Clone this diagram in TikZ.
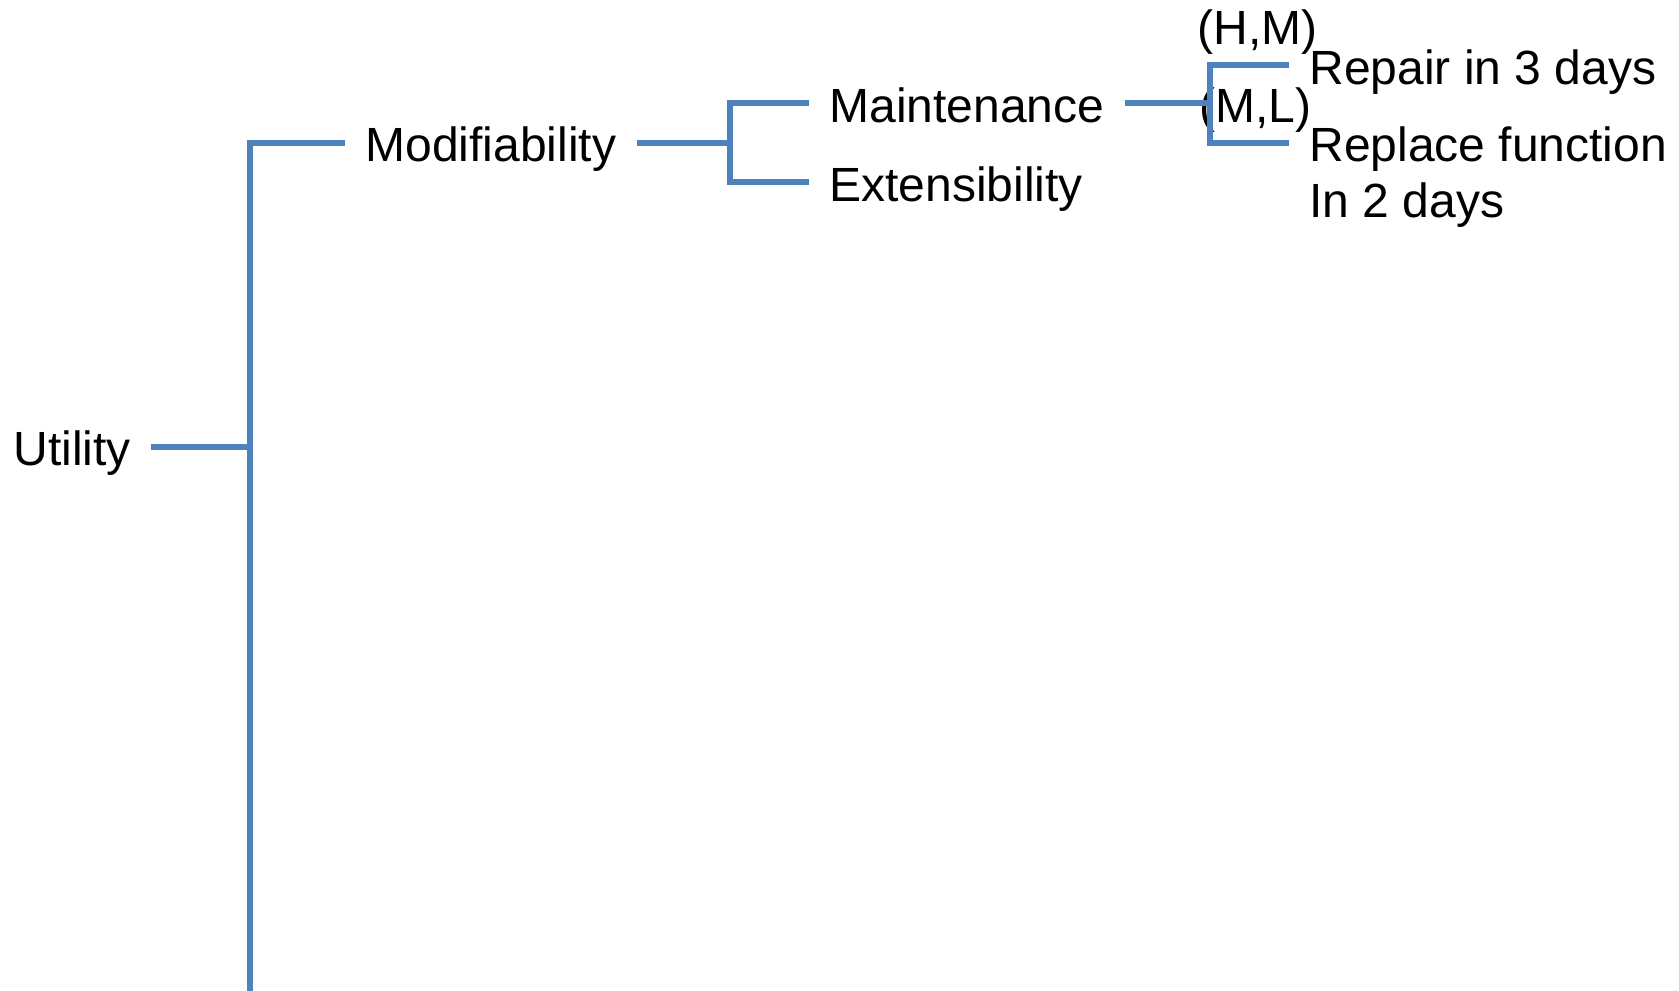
\documentclass[tikz,border=0pt]{standalone}
\usepackage{fontspec}
\setmainfont{Liberation Sans}
\usetikzlibrary{calc}
\definecolor{branch}{HTML}{4F81BD}
\begin{document}
\begin{tikzpicture}[x=0.5pt,y=-0.5pt,
  lbl/.style={anchor=west,inner xsep=10pt,inner ysep=0pt,text height=19pt,text depth=0pt,
    font=\fontsize{24pt}{28pt}\selectfont},
  tag/.style={anchor=base west,inner sep=0pt,font=\fontsize{24pt}{28pt}\selectfont},
  edge/.style={draw=branch,line width=3pt,line join=miter}]
\useasboundingbox (0,0) rectangle (1679,990);

% tree labels
\node[lbl] (util)  at (-7,446.5) {Utility};
\node[lbl] (modif) at (345,142.5) {Modifiability};
\node[lbl] (maint) at (809,103) {Maintenance};
\node[lbl] (ext)   at (809,182) {Extensibility};
\node[lbl] (rep)   at (1289,65) {Repair in 3 days};
\node[tag,inner xsep=10pt] (repl) at (1289,162)
  {\vtop{\baselineskip=28pt\hbox{Replace function}\hbox{In 2 days}}};
\node[tag] (hm) at (1197,45) {(H,M)};
\node[tag] (ml) at (1199,122) {(M,L)};

% junction points
\coordinate (j1)  at (249.5,446.5);
\coordinate (bot) at (249.5,995);
\coordinate (j2)  at (730,142.5);
\coordinate (j3)  at (1210,103);
\coordinate (replin) at ($(repl.base west)+(0,-19)$);

% connectors
\draw[edge] (util.east) -- (j1);
\draw[edge] (bot) |- (modif.west);
\draw[edge] (modif.east) -- (j2);
\draw[edge] (maint.west) -- (maint.west -| j2) -- (ext.west -| j2) -- (ext.west);
\draw[edge] (maint.east) -- (j3);
\draw[edge] (rep.west) -- (rep.west -| j3) -- (replin -| j3) -- (replin);
\end{tikzpicture}
\end{document}
